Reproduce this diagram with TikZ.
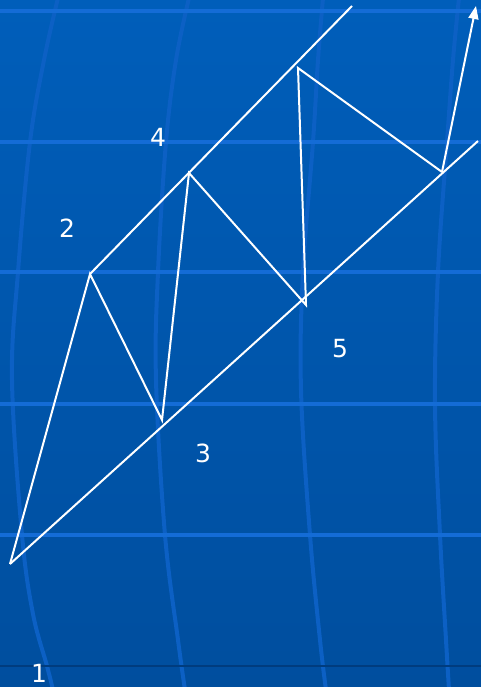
\documentclass[tikz,border=0pt]{standalone}
\usepackage{fontspec}
\setmainfont{DejaVu Sans}
\usetikzlibrary{arrows.meta}
\definecolor{bgtop}{RGB}{0,94,186}
\definecolor{bgbot}{RGB}{0,78,158}
\definecolor{gridc}{RGB}{20,108,214}
\definecolor{meridc}{RGB}{12,96,196}
\definecolor{darkc}{RGB}{0,60,126}
\tikzset{
  gridline/.style={draw=gridc, line width=3.3pt},
  meridian/.style={draw=meridc, line width=4pt},
  wline/.style={draw=white, line width=2pt, line join=miter},
  lbl/.style={text=white, font=\fontsize{25}{25}\selectfont, inner sep=0pt}
}
\begin{document}
\begin{tikzpicture}[x=1pt,y=-1pt]
\useasboundingbox (0,0) rectangle (481,687);
\shade[top color=bgtop, bottom color=bgbot] (0,0) rectangle (481,687);
% meridians
\draw[meridian] plot[smooth, tension=0.6] coordinates {(58,-2) (44,60) (30,142) (18,272) (12,380) (22,535) (33,614) (47,666) (53,690)};
\draw[meridian] plot[smooth, tension=0.6] coordinates {(189,-2) (176,60) (166,142) (158,272) (156,380) (165,535) (178,640) (185,690)};
\draw[meridian] plot[smooth, tension=0.6] coordinates {(323,-2) (318,60) (313,142) (303,272) (301,390) (310,535) (320,640) (326,690)};
\draw[meridian] plot[smooth, tension=0.6] coordinates {(459,-2) (453,60) (447,142) (438,272) (435,404) (440,535) (446,640) (449,690)};
% horizontal grid lines
\foreach \yy in {11,142,272,404,535} {\draw[gridline] (0,\yy) -- (481,\yy);}
\draw[draw=darkc, line width=2.5pt] (0,666) -- (481,666);
% key points
\coordinate (p1) at (10,564);
\coordinate (p2) at (90,274);
\coordinate (p3) at (162,420);
\coordinate (p4) at (189,173);
\coordinate (p5) at (306,305);
\coordinate (p6) at (298,68);
\coordinate (p7) at (442,172);
\coordinate (tip) at (476,6);
\coordinate (lowEnd) at (478,141);
\coordinate (upEnd) at (352,6);
% channel lines
\draw[wline] (p1) -- (lowEnd);
\draw[wline] (p2) -- (upEnd);
% zigzag
\draw[wline] (p1) -- (p2) -- (p3) -- (p4) -- (p5) -- (p6) -- (p7);
\draw[wline, -{Triangle[length=13pt, width=10pt]}] (p7) -- (tip);
% labels
\node[lbl] (l1) at (39,673) {1};
\node[lbl] (l2) at (67,228) {2};
\node[lbl] (l3) at (203,453) {3};
\node[lbl] (l4) at (158,137) {4};
\node[lbl] (l5) at (340,349) {5};
\end{tikzpicture}
\end{document}
